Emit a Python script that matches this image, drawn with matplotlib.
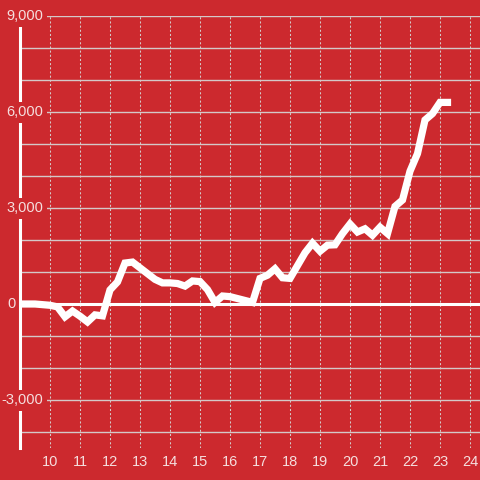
import matplotlib
matplotlib.use("Agg")
import matplotlib.pyplot as plt
import matplotlib.transforms as mtransforms

# ------------------------------
# DATA
# ------------------------------

# quarter-hour steps from 9:00
hours = [9 + 0.25 * i for i in range(58)]
values = [
    0, 0, 0, -20, -40, -90, -400, -220, -380, -560,
    -340, -370, 440, 690, 1280, 1310, 1130, 950, 770, 660,
    660, 640, 560, 720, 700, 450, 50, 250, 230, 170,
    110, 50, 800, 900, 1100, 820, 800, 1200, 1600, 1900,
    1650, 1840, 1850, 2200, 2500, 2250, 2350, 2150, 2400, 2200,
    3050, 3250, 4150, 4700, 5750, 5950, 6300, 6300,
]

x_ticks = list(range(10, 25))
y_grid = list(range(-4000, 9001, 1000))
y_labels = [9000, 6000, 3000, 0, -3000]

# ------------------------------
# STYLE
# ------------------------------

BG = "#cc292e"
GRID = "#d4c8c8"
TEXT = "#f5dede"
plt.rcParams["font.family"] = ["Liberation Sans", "DejaVu Sans"]

fig = plt.figure(figsize=(4.8, 4.8), dpi=100, facecolor=BG)
ax = fig.add_axes([20 / 480, 32 / 480, 460 / 480, 432 / 480], facecolor=BG)
ax.set_xlim(9, 9 + 460 / 30)
ax.set_ylim(-4500, 9000)

for s in ["top", "right", "bottom"]:
    ax.spines[s].set_visible(False)
ax.spines["left"].set_color("white")
ax.spines["left"].set_linewidth(2.2)
ax.spines["left"].set_zorder(2)

# grid
for y in y_grid:
    if y != 0:
        ax.axhline(y, color=GRID, lw=1.0, zorder=1)
for x in x_ticks:
    ax.axvline(x, color=GRID, lw=0.75, dashes=(2, 2), zorder=1)
ax.axhline(0, color="white", lw=2.2, zorder=3)

# series
ax.plot(hours, values, color="white", lw=5.2, solid_capstyle="projecting",
        solid_joinstyle="miter", zorder=4)

# x axis labels
ax.set_xticks(x_ticks)
ax.set_xticklabels([str(t) for t in x_ticks])
ax.set_yticks([])
ax.tick_params(axis="x", length=0, pad=5, labelsize=10.5, labelcolor=TEXT)

# y labels sit inside the plot on a red box covering the axis line
trans = mtransforms.blended_transform_factory(fig.transFigure, ax.transData)
for v in y_labels:
    txt = "{:,}".format(v).replace("\u2212", "-")
    xr = 16 / 480 if v == 0 else 43 / 480
    box = None if v == 0 else dict(facecolor=BG, edgecolor="none", pad=2.5)
    ax.text(xr, v, txt, transform=trans, ha="right", va="center",
            fontsize=10.5, color=TEXT, bbox=box, zorder=5, clip_on=False)

fig.savefig("out.png", dpi=100, facecolor=BG)
